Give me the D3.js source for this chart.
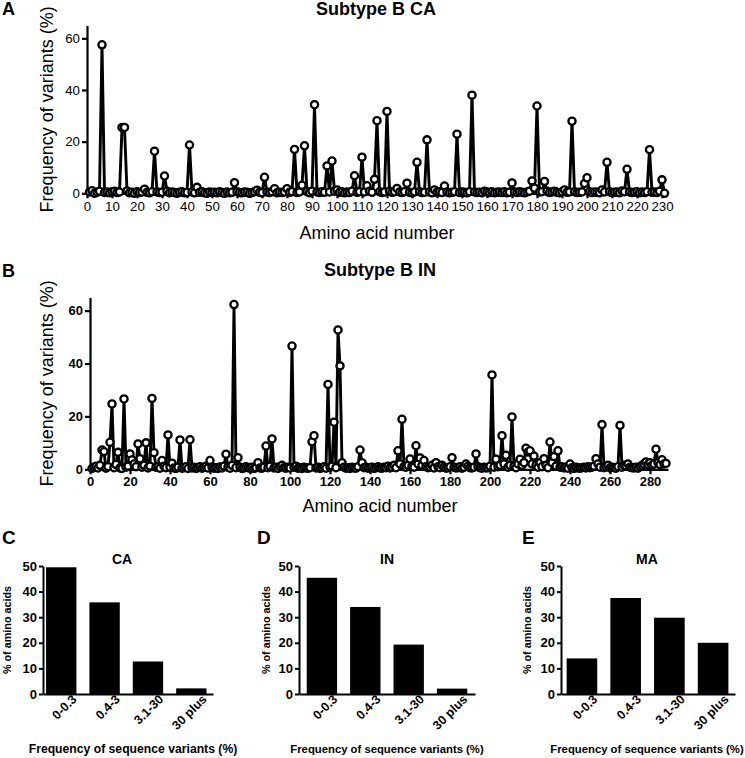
<!DOCTYPE html>
<html><head><meta charset="utf-8">
<script src="https://cdn.jsdelivr.net/npm/d3@7"></script>
<style>
body{margin:0;background:#fff}
text{font-family:"Liberation Sans",Arial,Helvetica,sans-serif;fill:#000}
</style>
</head><body>
<svg id="chart" width="745" height="758"></svg>
<script>
// ---------- DATA ----------
// Panel A: Subtype B CA, frequency of variants (%) for amino acids 1..231
const caFreq = [
 0.5,1.0,0,0.4,0.8,57.5,0.3,0.5,0.2,0.6,
 0.8,0.3,0.5,25.5,25.5,0.9,0.2,0.4,0,0.6,
 0.3,0.5,1.6,0.4,0.2,0.6,16.3,0.5,0.3,0.4,
 6.7,0.8,0.2,0.5,0.3,0,0.4,0.6,0.2,0.3,
 18.7,0.5,0.2,2.3,0.4,0.6,0.2,0,0.5,0.3,
 0.4,0.2,0.6,0.3,0,0.5,0.2,0.4,4.1,0.6,
 0.3,0.2,0.5,0.4,0,0.3,0.6,1.2,0.4,0.2,
 6.2,0.5,0.3,0.6,1.8,0.2,0.4,0.3,0.5,1.8,
 0.4,0.6,17.0,0.3,0.5,3.1,18.4,0.6,0.2,0.8,
 34.3,0.5,0.3,0.6,0.4,10.6,0.5,12.5,0.8,1.3,
 0.4,0.6,0.2,0.5,0.3,0.8,6.8,0.4,0.6,14.0,
 0.5,2.9,0.8,0.4,5.4,28.1,0.6,0.3,0.5,31.7,
 0.8,0.4,0.6,1.9,0.5,0.3,0.6,3.9,0.4,0.2,
 0.5,12.0,0.6,0.3,0.4,20.7,0.5,0.2,1.3,0.4,
 0.6,0.3,2.8,0.5,0.2,0.4,0.6,22.9,0.3,0.5,
 0.4,0.2,0.6,38.0,0.5,0.3,0.4,0.2,0.8,0.5,
 0.3,0.6,0.2,0.4,0.5,0.3,0.6,0.2,0.4,4.0,
 0.5,0.3,0.6,0.4,0.2,0.5,0.8,4.8,2.0,33.8,
 0.5,0.6,4.6,0.8,0.3,0.5,0.8,0.4,0.2,0.6,
 1.3,0.4,0.5,27.9,0.6,0.3,0.4,0.5,3.8,6.0,
 0.6,0.3,0.5,0.4,0.2,1.3,0.5,12.0,0.6,0.3,
 0.4,0.5,0.2,0.9,0.6,9.3,0.5,0.3,0.4,0.6,
 0.2,0.5,0.3,0.6,16.9,0.4,0.5,0.3,0.8,5.2,
 0
];
// Panel B: Subtype B IN, frequency of variants (%) for amino acids 1..288
const inFreq = [
 0.3,0.8,1.2,0.5,1.5,7.3,6.7,0.4,1.0,10.2,
 24.7,0.6,1.8,6.4,0.5,0.3,26.6,0.8,1.2,5.8,
 3.5,2.0,1.0,9.6,4.0,0.8,1.5,10.0,0.5,1.2,
 26.8,6.3,0.8,1.0,0.4,3.3,1.2,0.6,13.0,0.8,
 2.3,0.5,0.3,0.8,11.1,0.4,0.6,1.0,0.3,11.2,
 0.5,0.8,0.3,0.6,1.0,0.4,0.7,1.2,0.5,3.3,
 0.8,0.4,0.6,0.3,0.9,0.5,1.2,5.7,0.8,0.4,
 1.5,62.3,0.6,4.4,0.8,0.3,0.5,1.0,0.6,0.4,
 0.8,0.3,0.6,2.5,0.5,0.4,0.8,8.8,0.6,1.2,
 11.5,0.5,0.8,0.3,1.0,1.5,0.6,0.4,0.8,0.5,
 46.6,0.8,1.2,0.4,0.6,0.3,0.8,0.5,0.4,0.6,
 10.4,12.7,0.5,0.8,0.3,0.6,1.0,0.4,32.1,0.8,
 1.2,17.8,0.6,52.7,39.1,2.5,0.8,0.4,0.6,0.3,
 0.8,0.5,0.4,1.0,7.3,2.5,0.6,0.8,0.4,0.5,
 0.8,0.3,0.6,1.0,0.5,0.4,0.8,0.6,1.2,0.5,
 0.8,1.5,0.6,7.0,2.0,18.9,1.0,0.8,1.5,3.9,
 1.2,0.8,8.9,2.0,4.3,1.5,3.3,1.0,0.6,0.8,
 1.5,0.5,2.5,1.0,0.6,1.5,0.8,0.4,0.6,1.0,
 4.4,0.8,0.5,0.6,1.0,0.4,0.8,2.0,1.2,0.6,
 0.5,0.8,5.8,1.0,0.6,0.4,0.8,0.5,0.6,1.2,
 35.7,0.8,3.8,1.0,1.5,12.7,2.0,5.3,0.8,1.5,
 19.8,1.2,0.6,2.0,3.8,1.5,2.5,8.0,6.5,7.0,
 2.0,5.0,1.5,0.8,2.5,1.0,4.0,1.5,0.6,10.3,
 2.5,4.8,1.2,7.0,0.8,1.0,0.5,0.8,0.4,2.0,
 0.6,0.3,0.8,0.5,0.4,0.6,0.8,0.5,1.0,0.6,
 0.8,1.2,4.0,2.0,0.8,16.9,0.6,1.0,1.5,0.5,
 0.8,0.6,0.4,1.0,16.6,0.8,1.5,1.2,2.0,0.8,
 0.6,0.5,0.8,0.4,1.0,1.5,2.0,2.8,1.8,2.5,
 1.5,2.0,7.6,2.5,1.8,3.6,2.0,2.2
];
const caXTicks = [0,10,20,30,40,50,60,70,80,90,100,110,120,130,140,150,160,170,180,190,200,210,220,230];
const inXTicks = [0,20,40,60,80,100,120,140,160,180,200,220,240,260,280];
const freqYTicks = [0,20,40,60];

// Panels C-E: % of amino acids per frequency class
const classCategories = ["0-0.3","0.4-3","3.1-30","30 plus"];
const caClassPct = [49.5,35.8,12.7,2.2];
const inClassPct = [45.4,34.0,19.3,2.1];
const maClassPct = [13.9,37.5,29.8,20.0];
const pctYTicks = [0,10,20,30,40,50];

// ---------- DRAW ----------
const svg = d3.select("#chart");
const FONT = '"Liberation Sans",Arial,Helvetica,sans-serif';

function styleAxis(g, width){
  g.selectAll("path.domain").attr("stroke","#000").attr("stroke-width",width);
  g.selectAll(".tick line").attr("stroke","#000").attr("stroke-width",width);
  g.selectAll(".tick text").style("font-family",FONT).attr("fill","#000");
}

function linePanel(o){
  const x = d3.scaleLinear().domain(o.xDomain).range(o.xRange);
  const y = d3.scaleLinear().domain([0,65]).range(o.yRange);
  const data = o.values.map((v,i)=>({aa:i+1, v}));
  const g = svg.append("g");

  const ya = g.append("g").attr("transform",`translate(${o.xRange[0]},0)`)
    .call(d3.axisLeft(y).tickValues(freqYTicks).tickSize(5).tickSizeOuter(0).tickPadding(2));
  const xa = g.append("g").attr("transform",`translate(0,${o.yRange[0]})`)
    .call(d3.axisBottom(x).tickValues(o.xTicks).tickSize(5).tickSizeOuter(0).tickPadding(o.xPad));
  [ya,xa].forEach(a=>{
    styleAxis(a,2.2);
    a.selectAll(".tick text").style("font-size",o.tickFont).style("font-weight",o.tickWeight);
  });

  const line = d3.line().x(d=>x(d.aa)).y(d=>y(d.v));
  g.append("path").datum(data).attr("d",line)
    .attr("fill","none").attr("stroke","#000").attr("stroke-width",2.9)
    .attr("stroke-linejoin","miter");
  g.append("g").selectAll("circle").data(data).join("circle")
    .attr("cx",d=>x(d.aa)).attr("cy",d=>y(d.v)).attr("r",3.6)
    .attr("fill","#fff").attr("stroke","#000").attr("stroke-width",2.3);

  g.append("text").attr("x",o.titleX).attr("y",o.titleY).attr("text-anchor","middle")
    .style("font-size","18px").style("font-weight","bold").text(o.title);
  g.append("text").attr("x",2).attr("y",o.letterY)
    .style("font-size","18px").style("font-weight","bold").text(o.letter);
  g.append("text").attr("transform",`translate(53,${(o.yRange[0]+o.yRange[1])/2}) rotate(-90)`)
    .attr("text-anchor","middle").style("font-size","18px").text("Frequency of variants (%)");
  g.append("text").attr("x",o.xLabelX).attr("y",o.xLabelY).attr("text-anchor","middle")
    .style("font-size","18px").text("Amino acid number");
}

linePanel({values:caFreq, xDomain:[0,232], xRange:[87,667], yRange:[193.3,25.4],
  xTicks:caXTicks, tickFont:"13.3px", tickWeight:"normal", xPad:3,
  title:"Subtype B CA", titleX:376, titleY:15, letter:"A", letterY:15,
  xLabelX:377, xLabelY:239});
linePanel({values:inFreq, xDomain:[0,289], xRange:[90,668], yRange:[469.3,297.4],
  xTicks:inXTicks, tickFont:"13px", tickWeight:"bold", xPad:2,
  title:"Subtype B IN", titleX:380, titleY:276, letter:"B", letterY:277,
  xLabelX:380, xLabelY:512});

function barPanel(o){
  const x = d3.scaleBand().domain(classCategories).range([o.x0,o.x1])
    .paddingInner(0.3).paddingOuter(o.po).align(o.align);
  const y = d3.scaleLinear().domain([0,50]).range([694,566]);
  const g = svg.append("g");
  g.append("g").selectAll("rect").data(o.values).join("rect")
    .attr("x",(d,i)=>x(classCategories[i])).attr("width",x.bandwidth())
    .attr("y",d=>y(d)).attr("height",d=>y(0)-y(d)).attr("fill","#000");

  const ya = g.append("g").attr("transform",`translate(${o.x0},0)`)
    .call(d3.axisLeft(y).tickValues(pctYTicks).tickSize(4).tickSizeOuter(0).tickPadding(2));
  styleAxis(ya,2);
  ya.selectAll(".tick text").style("font-size","13px").style("font-weight","bold");

  const xa = g.append("g").attr("transform",`translate(0,694)`)
    .call(d3.axisBottom(x).tickSize(0).tickSizeOuter(0));
  styleAxis(xa,2);
  xa.selectAll(".tick text").attr("text-anchor","end")
    .attr("dy",null).attr("y",null)
    .attr("transform",`translate(${x.bandwidth()/2+1},6) rotate(-45)`)
    .style("font-size","12.5px").style("font-weight","bold");

  g.append("text").attr("x",o.titleX).attr("y",564).attr("text-anchor","middle")
    .style("font-size","14px").style("font-weight","bold").text(o.title);
  g.append("text").attr("x",o.letterX).attr("y",544)
    .style("font-size","19px").style("font-weight","bold").text(o.letter);
  g.append("text").attr("transform",`translate(${o.yLabX},630) rotate(-90)`)
    .attr("text-anchor","middle").style("font-size","10.8px").style("font-weight","bold")
    .text("% of amino acids");
  g.append("text").attr("x",o.xLabX).attr("y",753).attr("text-anchor","middle")
    .style("font-size",o.xLabFont).style("font-weight","bold")
    .text("Frequency of sequence variants (%)");
}

barPanel({values:caClassPct, x0:43, x1:213, po:0.11, align:0.32, title:"CA", titleX:122,
  letter:"C", letterX:2, yLabX:11, xLabX:133, xLabFont:"12.2px"});
barPanel({values:inClassPct, x0:299, x1:475, po:0.178, align:0.5, title:"IN", titleX:387,
  letter:"D", letterX:257, yLabX:270, xLabX:387, xLabFont:"11.3px"});
barPanel({values:maClassPct, x0:561, x1:735, po:0.14, align:0.46, title:"MA", titleX:647,
  letter:"E", letterX:522, yLabX:531, xLabX:647, xLabFont:"11.3px"});
</script>
</body></html>
